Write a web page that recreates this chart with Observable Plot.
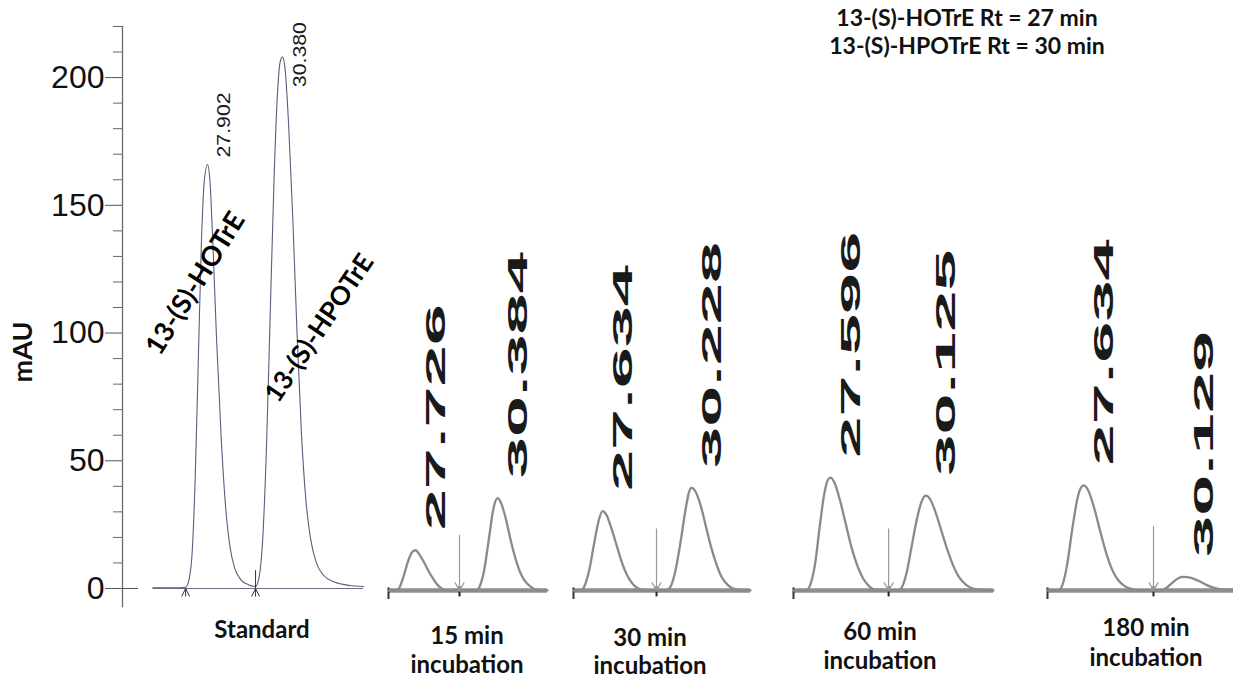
<!DOCTYPE html>
<html>
<head>
<meta charset="utf-8">
<script src="https://cdn.jsdelivr.net/npm/d3@7"></script>
<script src="https://cdn.jsdelivr.net/npm/@observablehq/plot@0.6"></script>
<style>
  body { margin: 0; background: #fff; }
  #wrap { position: relative; width: 1233px; height: 678px; overflow: hidden; background: #fff; }
  .panel { position: absolute; top: 0; }
  .lbl { position: absolute; font-family: Lato, "Open Sans", sans-serif; font-weight: 700; color: #111;
         white-space: nowrap; transform: translate(-50%, -50%); line-height: 0.95; }
</style>
</head>
<body>
<div id="wrap"></div>
<script>
// ---------------- DATA ----------------
const yMajorTicks = [0, 50, 100, 150, 200];
const yMinorTicks = [10, 20, 30, 40, 60, 70, 80, 90, 110, 120, 130, 140, 160, 170, 180, 190, 210, 220];

// Standard chromatogram (retention time, min ; absorbance, mAU)
const stdTime = [26.10, 26.80, 27.18, 27.30, 27.40, 27.50, 27.60, 27.70, 27.80, 27.902, 27.98, 28.08, 28.20, 28.35, 28.50, 28.65, 28.80, 29.00, 29.25, 29.49, 29.60, 29.72, 29.85, 29.98, 30.10, 30.22, 30.30, 30.38, 30.46, 30.58, 30.72, 30.86, 31.00, 31.15, 31.30, 31.50, 31.75, 32.10, 32.60, 33.06];
const stdSignal = [0.3, 0.3, 0.5, 4, 15, 45, 90, 135, 160, 166, 160, 135, 98, 60, 32, 16, 8, 3.5, 1.5, 0.8, 4, 18, 55, 110, 160, 195, 206, 208, 204, 182, 145, 100, 62, 35, 20, 10, 5, 2.5, 1.2, 0.8];
const stdPeakTimes = [27.902, 30.380];
const stdPeakHeights = [166, 208];
const stdPeakNames = ["13-(S)-HOTrE", "13-(S)-HPOTrE"];
const stdIntegrationMarks = [27.18, 29.49];

// 15 min incubation
const inc15Time = [26.85, 27.10, 27.20, 27.35, 27.50, 27.62, 27.726, 27.85, 28.00, 28.15, 28.30, 28.45, 28.60, 28.75, 29.70, 29.80, 29.95, 30.10, 30.25, 30.384, 30.50, 30.65, 30.80, 30.95, 31.10, 31.25, 31.45, 31.65, 32.00];
const inc15Signal = [0, 0, 1, 6, 12, 15, 15.7, 14, 11, 7.5, 4.5, 2, 0.6, 0, 0, 1.5, 8, 20, 32, 36, 34, 28, 20, 13, 7.5, 4, 1.5, 0.3, 0];
const inc15PeakTimes = [27.726, 30.384];
const inc15PeakHeights = [15.7, 36];

// 30 min incubation
const inc30Time = [26.79, 27.00, 27.10, 27.25, 27.40, 27.52, 27.634, 27.75, 27.90, 28.05, 28.20, 28.35, 28.50, 28.65, 28.80, 29.50, 29.62, 29.75, 29.90, 30.05, 30.15, 30.228, 30.35, 30.50, 30.65, 30.80, 30.95, 31.10, 31.30, 31.55, 31.95];
const inc30Signal = [0, 0, 1.5, 8, 19, 27, 31, 29.5, 24, 17.5, 11, 6, 2.8, 1, 0.2, 0, 1.5, 7, 18, 31, 38, 40, 38.5, 33, 25, 17, 10.5, 5.5, 2, 0.3, 0];
const inc30PeakTimes = [27.634, 30.228];
const inc30PeakHeights = [31, 40];

// 60 min incubation
const inc60Time = [26.61, 26.95, 27.05, 27.18, 27.30, 27.42, 27.52, 27.596, 27.70, 27.85, 28.00, 28.15, 28.30, 28.45, 28.60, 28.80, 29.40, 29.50, 29.62, 29.75, 29.88, 30.00, 30.125, 30.25, 30.40, 30.55, 30.70, 30.85, 31.00, 31.20, 31.45, 31.93];
const inc60Signal = [0, 0, 2, 10, 24, 37, 43, 44, 42, 35, 26, 17, 10, 5, 2, 0.3, 0, 1.5, 7, 17, 27, 34, 37, 35.5, 30, 23, 16, 10, 5.5, 2.2, 0.5, 0];
const inc60PeakTimes = [27.596, 30.125];
const inc60PeakHeights = [44, 37];

// 180 min incubation
const inc180Time = [26.73, 27.00, 27.10, 27.22, 27.35, 27.48, 27.56, 27.634, 27.75, 27.90, 28.05, 28.20, 28.35, 28.50, 28.65, 28.85, 29.00, 29.55, 29.70, 29.85, 30.00, 30.129, 30.30, 30.50, 30.70, 30.90, 31.10, 31.38];
const inc180Signal = [0, 0, 2, 10, 24, 36, 40, 41, 39, 32, 23, 14.5, 8, 4, 1.8, 0.5, 0, 0, 1, 3, 4.8, 5.3, 5, 3.8, 2.2, 1, 0.4, 0.2];
const inc180PeakTimes = [27.634, 30.129];
const inc180PeakHeights = [41, 5.3];

// valley (integration) arrows of the incubation runs
const incArrowTimes = [29.15, 29.21, 29.14, 29.38];
const incArrowTops = [21.5, 24, 24, 25];

const panelTitles = ["Standard", "15 min\nincubation", "30 min\nincubation", "60 min\nincubation", "180 min\nincubation"];
const legendLines = ["13-(S)-HOTrE Rt = 27 min", "13-(S)-HPOTrE Rt = 30 min"];
const yAxisLabel = "mAU";

// ---------------- HELPERS ----------------
const fmt = d3.format(".3f");
const toRows = (t, v) => t.map((d, i) => ({t: d, v: v[i]}));
const toPeaks = (t, h) => t.map((d, i) => ({t: d, h: h[i], label: fmt(d)}));
const wrap = document.getElementById("wrap");

function place(node, left) {
  node.classList.add("panel");
  node.style.left = left + "px";
  wrap.appendChild(node);
  return node;
}
// stretch the rotated retention-time labels along their length, like the scanned traces
function stretchLabels(svg, length) {
  svg.querySelectorAll("text").forEach(t => {
    if (/^\d+\.\d{3}$/.test(t.textContent.trim())) {
      t.setAttribute("textLength", length);
      t.setAttribute("lengthAdjust", "spacingAndGlyphs");
      t.querySelectorAll("tspan").forEach(s => { s.setAttribute("textLength", length); s.setAttribute("lengthAdjust", "spacingAndGlyphs"); });
    }
  });
}

const lambdaMark = {
  draw(c) { c.moveTo(-4, 8); c.lineTo(0, 0); c.lineTo(4, 8); c.moveTo(0, 0); c.lineTo(0, 8); }
};

// ---------------- STANDARD PANEL ----------------
const std = toRows(stdTime, stdSignal);
const stdPeaks = toPeaks(stdPeakTimes, stdPeakHeights);
const stdPlot = Plot.plot({
  width: 370, height: 620,
  marginLeft: 122, marginRight: 7, marginTop: 26, marginBottom: 32,
  x: {domain: [25.094, 33.056], axis: null},
  y: {domain: [0, 220], axis: null},
  style: {background: "transparent", overflow: "visible"},
  marks: [
    Plot.frame({anchor: "left", insetBottom: -18, stroke: "#6b6b6b", strokeWidth: 1.3}),
    Plot.axisY(yMajorTicks, {tickSize: 17, tickPadding: 1, fontSize: 32, fontFamily: "Liberation Sans, Arial, sans-serif",
      stroke: "#555", fill: "#111", label: null}),
    Plot.axisY(yMinorTicks, {tickSize: 9, stroke: "#666", tickFormat: () => "", label: null}),
    Plot.axisY([0], {tickSize: 16, dx: 16, stroke: "#555", tickFormat: () => "", label: null}),
    Plot.ruleY([0], {x1: d3.min(stdTime), x2: d3.max(stdTime), stroke: "#6a6f80", strokeWidth: 1.2}),
    Plot.line(std, {x: "t", y: "v", curve: "monotone-x", stroke: "#56607c", strokeWidth: 1.1}),
    Plot.dot(stdIntegrationMarks, {x: d => d, y: 0, symbol: lambdaMark, r: 4, stroke: "#333", fill: "none", strokeWidth: 1}),
    Plot.ruleX(stdIntegrationMarks.slice(1), {y1: 0, y2: 7, stroke: "#333", strokeWidth: 1}),
    Plot.text([stdPeaks[0]], {x: "t", y: "h", text: "label", rotate: -90, textAnchor: "start", dx: 16, dy: -7,
      fontSize: 19, fontFamily: "Liberation Sans, Arial, sans-serif", fill: "#1a1a1a"}),
    Plot.text([stdPeaks[1]], {x: "t", y: "h", text: "label", rotate: -90, textAnchor: "start", dx: 17, dy: 30,
      fontSize: 19, fontFamily: "Liberation Sans, Arial, sans-serif", fill: "#1a1a1a"}),
    Plot.text([{t: stdPeakTimes[0], h: stdPeakHeights[0], name: stdPeakNames[0]}], {x: "t", y: "h", text: "name",
      rotate: -58, dx: -12, dy: 119, fontSize: 27, fontWeight: "bold", fontFamily: "Lato, sans-serif", fill: "#000"}),
    Plot.text([{t: stdPeakTimes[1], h: stdPeakHeights[1], name: stdPeakNames[1]}], {x: "t", y: "h", text: "name",
      rotate: -56, dx: 37, dy: 271, fontSize: 26, fontWeight: "bold", fontFamily: "Lato, sans-serif", fill: "#000"})
  ]
});
stretchLabels(stdPlot, 65);
place(stdPlot, 0);

// ---------------- INCUBATION PANELS ----------------
function incubationPanel(time, signal, peakTimes, peakHeights, arrowTime, arrowTop, box) {
  const rows = toRows(time, signal);
  const peaks = toPeaks(peakTimes, peakHeights);
  const domain = d3.extent(time);
  const width = Math.round(box.right - box.left) + 16;
  const p = Plot.plot({
    width, height: 620,
    marginLeft: 8, marginRight: 8, marginTop: 26, marginBottom: 30,
    x: {domain, axis: null},
    y: {domain: [0, 220], axis: null},
    style: {background: "transparent", overflow: "visible"},
    marks: [
      Plot.ruleY([0], {x1: domain[0], x2: domain[1], stroke: "#7a7a7a", strokeWidth: 4.5, strokeOpacity: 0.85}),
      Plot.ruleX([domain[0]], {y1: -3.5, y2: 1, stroke: "#333", strokeWidth: 2}),
      Plot.ruleX([arrowTime], {y1: -2.5, y2: 1.5, stroke: "#222", strokeWidth: 2}),
      Plot.line(rows, {x: "t", y: "v", curve: "monotone-x", stroke: "#8a8a8a", strokeWidth: 2.3}),
      Plot.arrow([arrowTime], {x1: d => d, x2: d => d, y1: arrowTop, y2: 0, stroke: "#9a9a9a", strokeWidth: 1.2, headLength: 11}),
      Plot.text(peaks, {x: "t", y: "h", text: "label", rotate: -90, textAnchor: "start", dx: 21, dy: -20,
        fontSize: 27, fontWeight: "bold", fontFamily: "Liberation Sans, Arial, sans-serif", fill: "#1a1a1a"})
    ]
  });
  stretchLabels(p, 226);
  place(p, box.left - 8);
}

incubationPanel(inc15Time, inc15Signal, inc15PeakTimes, inc15PeakHeights, incArrowTimes[0], incArrowTops[0], {left: 388, right: 547});
incubationPanel(inc30Time, inc30Signal, inc30PeakTimes, inc30PeakHeights, incArrowTimes[1], incArrowTops[1], {left: 573, right: 750});
incubationPanel(inc60Time, inc60Signal, inc60PeakTimes, inc60PeakHeights, incArrowTimes[2], incArrowTops[2], {left: 793, right: 993});
incubationPanel(inc180Time, inc180Signal, inc180PeakTimes, inc180PeakHeights, incArrowTimes[3], incArrowTops[3], {left: 1047, right: 1233});

// ---------------- TEXT LABELS ----------------
function label(text, x, y, size, extra) {
  const d = document.createElement("div");
  d.className = "lbl";
  d.textContent = text;
  d.style.left = x + "px";
  d.style.top = y + "px";
  d.style.fontSize = size + "px";
  if (extra) Object.assign(d.style, extra);
  wrap.appendChild(d);
}
label(legendLines[0], 967, 18, 23);
label(legendLines[1], 967, 46, 23);
label(yAxisLabel, 22, 352, 27, {transform: "translate(-50%, -50%) rotate(-90deg)"});
const titlePos = [[262, 629], [467, 635, 664], [650, 637, 665], [880, 631, 660], [1146, 627, 657]];
panelTitles.forEach((t, i) => {
  const lines = t.split("\n");
  const pos = titlePos[i];
  lines.forEach((ln, j) => label(ln, pos[0], pos[1 + j], 24));
});
</script>
</body>
</html>
